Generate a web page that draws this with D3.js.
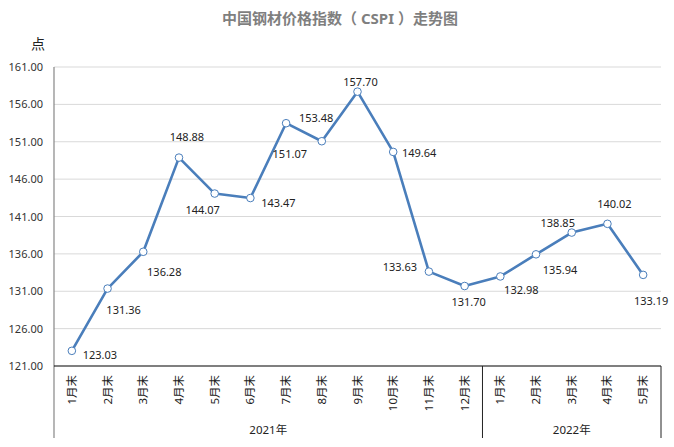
<!DOCTYPE html>
<html><head><meta charset="utf-8">
<script src="https://cdn.jsdelivr.net/npm/d3@7/dist/d3.min.js"></script>
<style>body{margin:0;background:#fff}svg{display:block}text{font-family:"Noto Sans","Noto Sans CJK SC",sans-serif}</style>
</head><body>
<script>
const months = ["1月末","2月末","3月末","4月末","5月末","6月末","7月末","8月末","9月末","10月末","11月末","12月末","1月末","2月末","3月末","4月末","5月末"];
const values = [123.03,131.36,136.28,148.88,144.07,143.47,153.48,151.07,157.70,149.64,133.63,131.70,132.98,135.94,138.85,140.02,133.19];
const years = [{name:"2021年", start:0, end:12},{name:"2022年", start:12, end:17}];
const yTicks = [121,126,131,136,141,146,151,156,161];
const labelDx = [28,16,21,8,-12,28,30,-32,3,26,-29,4,21,24,-14,7,8];
const labelDy = [4,21,20,-21,16,4,-6,12,-10,1,-5,15,13,15,-10,-20,26];

const W=674,H=447, L=54, R=661, T=67, B=366, Bot=438;
const FONT="'Noto Sans','Noto Sans CJK SC',sans-serif";
const svg=d3.select("body").append("svg").attr("width",W).attr("height",H);
const x=d3.scaleBand().domain(d3.range(months.length)).range([L,R]);
const y=d3.scaleLinear().domain([121,161]).range([B,T]);

svg.append("text").attr("x",340).attr("y",18).attr("text-anchor","middle").attr("dominant-baseline","central")
  .attr("font-family","'Noto Sans CJK SC',sans-serif")
  .attr("font-size",15).attr("font-weight","bold").attr("fill","#7f7f7f").text("中国钢材价格指数（ CSPI ）走势图");
svg.append("text").attr("x",38).attr("y",43).attr("text-anchor","middle").attr("dominant-baseline","central")
  .attr("font-family","'Noto Sans CJK SC',sans-serif")
  .attr("font-size",14).attr("fill","#222").text("点");

// gridlines
svg.append("g").selectAll("line").data(yTicks.slice(1)).join("line")
  .attr("x1",L).attr("x2",R).attr("y1",d=>y(d)).attr("y2",d=>y(d)).attr("stroke","#d9d9d9").attr("stroke-width",1);

// y axis
const ya=svg.append("g").attr("transform",`translate(${L},0)`)
  .call(d3.axisLeft(y).tickValues(yTicks).tickFormat(d3.format(".2f")).tickSize(0).tickPadding(11));
ya.select(".domain").remove();
ya.selectAll("text").attr("font-size",11).attr("fill","#333").attr("font-family",FONT);
svg.append("line").attr("x1",L).attr("x2",L).attr("y1",T).attr("y2",Bot).attr("stroke","#868686").attr("stroke-width",1.2);

// x axis
svg.append("line").attr("x1",L).attr("x2",R).attr("y1",B).attr("y2",B).attr("stroke","#000").attr("stroke-width",1.2);
const xa=svg.append("g").attr("transform",`translate(0,${B})`)
  .call(d3.axisBottom(x).tickFormat(i=>months[i]).tickSize(0));
xa.select(".domain").remove();
xa.selectAll(".tick text").attr("font-size",11.5).attr("fill","#222").attr("font-family","'Noto Sans CJK SC',sans-serif")
  .attr("text-anchor","end").attr("dy","0.35em").attr("x",0).attr("y",0)
  .attr("transform","translate(0,9) rotate(-90)");

// year groups
years.forEach(g=>{
  const x1 = x(g.end-1)+x.bandwidth();
  svg.append("line").attr("x1",x1).attr("x2",x1).attr("y1",B).attr("y2",Bot).attr("stroke","#222").attr("stroke-width",1);
  svg.append("text").attr("x",(x(g.start)+x1)/2).attr("y",429).attr("text-anchor","middle").attr("dominant-baseline","central")
    .attr("font-family","'Noto Sans CJK SC',sans-serif")
    .attr("font-size",11.5).attr("fill","#222").text(g.name);
});

// line
const line=d3.line().x((d,i)=>x(i)+x.bandwidth()/2).y(d=>y(d));
svg.append("path").datum(values).attr("d",line).attr("fill","none").attr("stroke","#4a7ebb").attr("stroke-width",2.6).attr("stroke-linejoin","round");
svg.append("g").selectAll("circle").data(values).join("circle")
  .attr("cx",(d,i)=>x(i)+x.bandwidth()/2).attr("cy",d=>y(d)).attr("r",3.8)
  .attr("fill","#fff").attr("stroke","#4a7ebb").attr("stroke-width",1);
svg.append("g").selectAll("text").data(values).join("text")
  .attr("x",(d,i)=>x(i)+x.bandwidth()/2+labelDx[i]).attr("y",(d,i)=>y(d)+labelDy[i])
  .attr("text-anchor","middle").attr("dominant-baseline","central").attr("font-size",11).attr("fill","#222")
  .attr("font-family",FONT)
  .text(d=>d.toFixed(2));
</script>
</body></html>
